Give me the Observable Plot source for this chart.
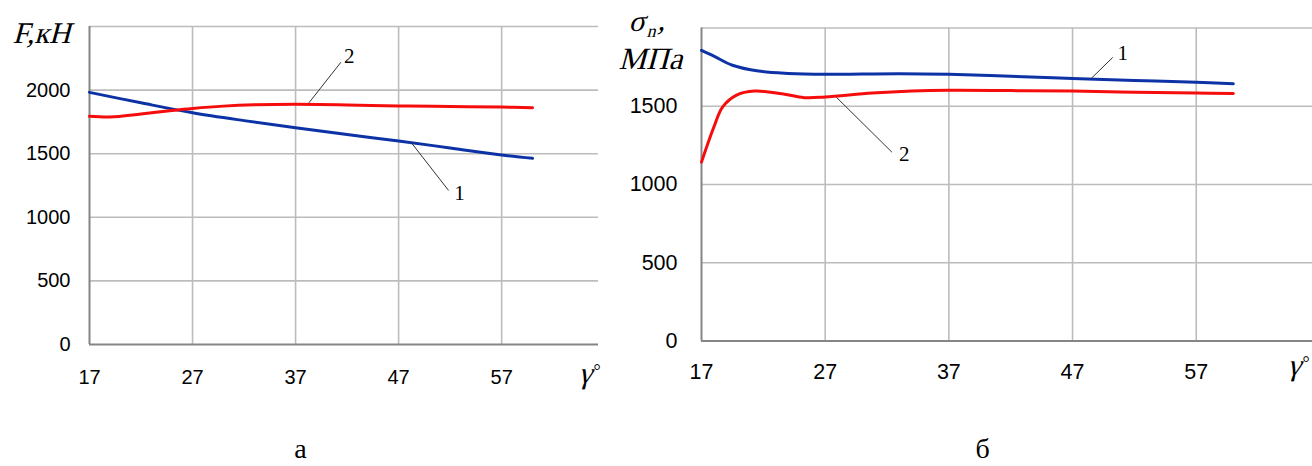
<!DOCTYPE html>
<html><head><meta charset="utf-8">
<script src="https://cdn.jsdelivr.net/npm/d3@7"></script>
<script src="https://cdn.jsdelivr.net/npm/@observablehq/plot@0.6"></script>
<style>
body{margin:0;background:#fff;}
#wrap{position:relative;width:1312px;height:466px;overflow:hidden;background:#fff;}
#wrap svg{position:absolute;top:0;}
</style></head><body><div id="wrap"></div>
<script>
// ---- tick labels ----
const xTicks = [17, 27, 37, 47, 57];
const xGrid = [27, 37, 47, 57];
const yTicksA = [0, 500, 1000, 1500, 2000];
const yGridA = [500, 1000, 1500, 2000, 2500];
const yTicksB = [0, 500, 1000, 1500];
const yGridB = [500, 1000, 1500, 2000];

// ---- panel а: F, кН ----
const gammaA1 = [17, 22, 27, 32, 37, 42, 47, 52, 57, 60];
const forceA1 = [1982, 1900, 1822, 1760, 1704, 1651, 1600, 1545, 1490, 1464];
const gammaA2 = [17, 19, 22, 25, 27, 30, 33, 37, 42, 47, 52, 57, 60];
const forceA2 = [1794, 1788, 1812, 1840, 1856, 1874, 1884, 1888, 1883, 1875, 1871, 1867, 1862];

// ---- panel б: σn, МПа ----
const gammaB1 = [17, 18, 19.5, 21.6, 24, 27, 30, 33, 37, 42, 47, 52, 57, 60];
const stressB1 = [1857, 1820, 1762, 1725, 1710, 1704, 1706, 1708, 1704, 1692, 1678, 1665, 1653, 1644];
const gammaB2 = [17, 18, 18.7, 19.8, 21.3, 23.5, 25.3, 27, 30.8, 34, 37, 42, 47, 52, 57, 60];
const stressB2 = [1143, 1367, 1495, 1570, 1597, 1580, 1555, 1559, 1584, 1597, 1602, 1600, 1597, 1590, 1584, 1581];

// ---- curve labels and leader lines (data coordinates) ----
const labelsA = [{t: "2", x: 42.2, y: 2264}, {t: "1", x: 52.9, y: 1189}];
const leadersA = [{x1: 41.4, y1: 2219, x2: 38.3, y2: 1900}, {x1: 51.85, y1: 1211, x2: 48.2, y2: 1590}];
const labelsB = [{t: "1", x: 51.06, y: 1837}, {t: "2", x: 33.4, y: 1196}];
const leadersB = [{x1: 50.25, y1: 1812, x2: 48.5, y2: 1677}, {x1: 32.4, y1: 1206, x2: 27.9, y2: 1558}];

const BLUE = "#0d32a6", RED = "#f50d0d";
const SANS = "'Liberation Sans', Arial, sans-serif";
const SERIF = "'Liberation Serif', 'Times New Roman', serif";
const ITALIC_TEXTS = new Set(["γ", "F,кН", "σ", "n", ",", "МПа"]);

const zip = (xs, ys) => xs.map((x, i) => ({x, y: ys[i]}));

function panel(o) {
  const it = {textAnchor: "start", lineAnchor: "bottom", fontFamily: SERIF, fill: "#000"};
  return Plot.plot({
    width: o.width, height: 466,
    marginLeft: o.ml, marginRight: o.mr, marginTop: o.mt, marginBottom: o.mb,
    x: {domain: [17, 66.4], axis: null},
    y: {domain: o.yDomain, axis: null},
    style: {background: "transparent", overflow: "visible", maxWidth: "none"},
    marks: [
      Plot.ruleX(xGrid, {x: d => d, stroke: "#bcbcbc", strokeWidth: 1.6}),
      Plot.ruleY(o.yGrid, {y: d => d, stroke: "#bcbcbc", strokeWidth: 1.6}),
      Plot.ruleX([17], {x: d => d, stroke: "#858585", strokeWidth: 2}),
      Plot.ruleY([0], {y: d => d, stroke: "#858585", strokeWidth: 2}),
      Plot.line(o.s1, {x: "x", y: "y", stroke: BLUE, strokeWidth: 3, curve: "catmull-rom"}),
      Plot.line(o.s2, {x: "x", y: "y", stroke: RED, strokeWidth: 3, curve: "catmull-rom"}),
      Plot.link(o.leaders, {x1: "x1", y1: "y1", x2: "x2", y2: "y2", stroke: "#333", strokeWidth: 1}),
      Plot.text(o.labels, {x: "x", y: "y", text: "t", fontFamily: SERIF, fontSize: 21, lineAnchor: "middle", fill: "#000"}),
      Plot.text(xTicks, {x: d => d, text: d => String(d), frameAnchor: "bottom", dy: o.xdy, lineAnchor: "middle", fontSize: o.fs, fontFamily: SANS, fill: "#000"}),
      Plot.text(o.yTicks, {y: d => d, text: d => String(d), frameAnchor: "left", dx: o.ydx, textAnchor: "end", lineAnchor: "middle", fontSize: o.fs, fontFamily: SANS, fill: "#000"}),
      Plot.text(["γ"], {...it, text: d => d, frameAnchor: "bottom-right", dx: o.gdx, dy: o.gdy, fontSize: 30}),
      Plot.text(["°"], {text: d => d, frameAnchor: "bottom-right", dx: o.gdx + 15, dy: o.gdy - 6, textAnchor: "start", lineAnchor: "bottom", fontSize: 18, fontFamily: SERIF, fill: "#000"}),
      ...o.titles.map(t => Plot.text([t.s], {...it, text: d => d, frameAnchor: "top-left", dx: t.dx, dy: t.dy, fontSize: t.fs})),
      Plot.text([o.caption], {text: d => d, frameAnchor: "bottom-left", dx: o.cdx, dy: o.cdy, textAnchor: "middle", lineAnchor: "bottom", fontSize: 28, fontFamily: SERIF, fill: "#000"})
    ]
  });
}

const A = panel({
  width: 600, ml: 89, mr: 2, mt: 26, mb: 122, yDomain: [0, 2500],
  yGrid: yGridA, yTicks: yTicksA,
  s1: zip(gammaA1, forceA1), s2: zip(gammaA2, forceA2),
  labels: labelsA, leaders: leadersA,
  fs: 20, xdy: 33, ydx: -19, gdx: -20, gdy: 38,
  titles: [{s: "F,кН", dx: -77, dy: 16, fs: 30}],
  caption: "а", cdx: 211, cdy: 113
});
const B = panel({
  width: 712, ml: 101, mr: 0, mt: 27.5, mb: 125.5, yDomain: [0, 2000],
  yGrid: yGridB, yTicks: yTicksB,
  s1: zip(gammaB1, stressB1), s2: zip(gammaB2, stressB2),
  labels: labelsB, leaders: leadersB,
  fs: 21.5, xdy: 31, ydx: -24, gdx: -25, gdy: 33.5,
  titles: [
    {s: "σ", dx: -73, dy: 3, fs: 30},
    {s: "n", dx: -55, dy: 8.5, fs: 18},
    {s: ",", dx: -44, dy: 2, fs: 30},
    {s: "МПа", dx: -83, dy: 41, fs: 31}
  ],
  caption: "б", cdx: 281, cdy: 116.5
});
// slant the serif axis titles about their own anchor (italic look)
for (const svg of [A, B]) {
  svg.querySelectorAll("text").forEach(t => {
    if (!ITALIC_TEXTS.has(t.textContent)) return;
    const x = +(t.getAttribute("x") || 0), y = +(t.getAttribute("y") || 0);
    const tr = t.getAttribute("transform") || "";
    t.setAttribute("transform", `${tr} translate(${x},${y}) skewX(-15) translate(${-x},${-y})`);
  });
}
A.style.left = "0px";
B.style.left = "600px";
const wrap = document.getElementById("wrap");
wrap.appendChild(A);
wrap.appendChild(B);
</script></body></html>
